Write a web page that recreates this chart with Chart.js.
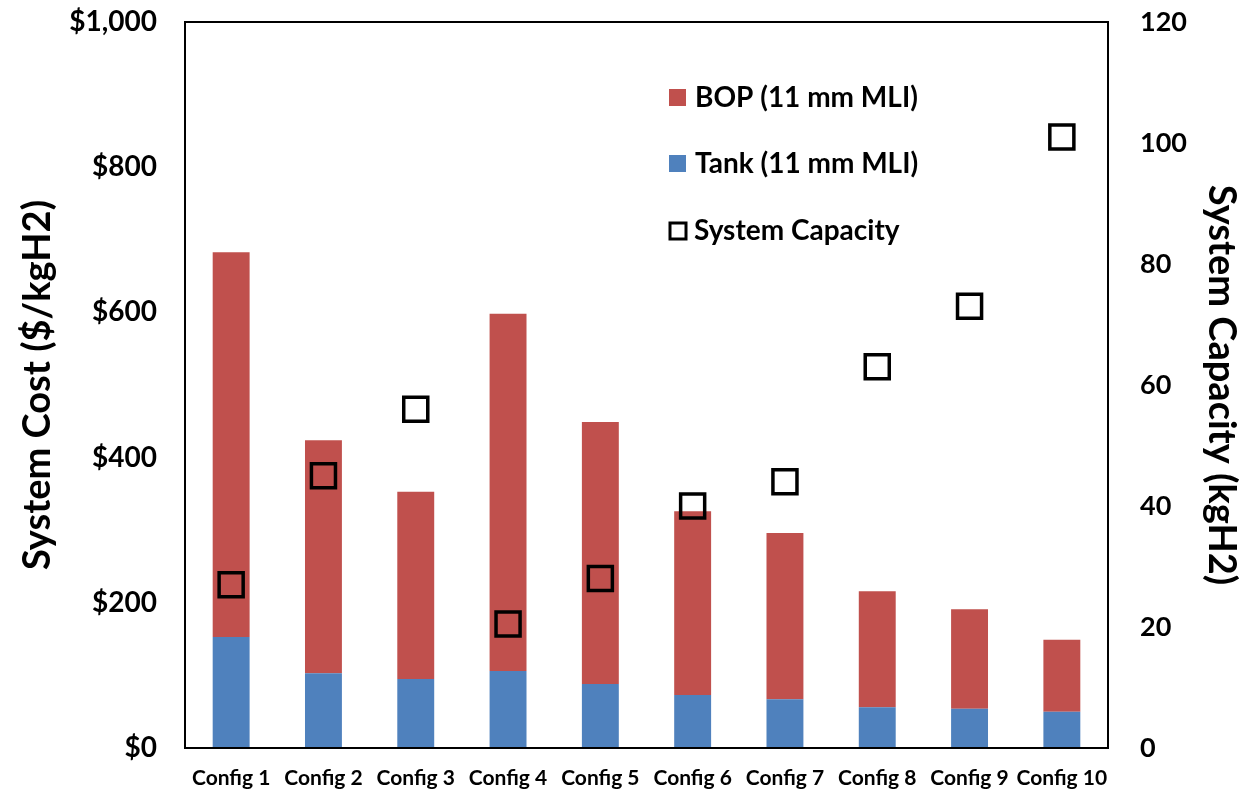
<!DOCTYPE html>
<html>
<head>
<meta charset="utf-8">
<script src="https://cdn.jsdelivr.net/npm/chart.js@4/dist/chart.umd.min.js"></script>
<style>
  html, body { margin: 0; padding: 0; background: #fff; }
  #wrap { width: 1246px; height: 791px; position: relative; }
</style>
</head>
<body>
<div id="wrap"><canvas id="chart"></canvas></div>
<script>
const categories = ['Config 1', 'Config 2', 'Config 3', 'Config 4', 'Config 5',
                    'Config 6', 'Config 7', 'Config 8', 'Config 9', 'Config 10'];
const tankCost = [153, 103, 95, 106, 88, 73, 67, 56, 54, 50];
const bopCost = [530, 321, 258, 492, 361, 253, 229, 160, 137, 99];
const capacity = [27, 45, 56, 20.5, 28, 40, 44, 63, 73, 101];

const FONT = 'Lato, "Open Sans", sans-serif';

// box round the plot area
const frame = {
    id: 'frame',
    afterDatasetsDraw(chart) {
        const a = chart.chartArea;
        const ctx = chart.ctx;
        ctx.save();
        ctx.strokeStyle = '#000';
        ctx.lineWidth = 2;
        ctx.strokeRect(a.left, a.top, a.right - a.left, a.bottom - a.top);
        ctx.restore();
    }
};

// legend drawn inside the plot, upper right
const innerLegend = {
    id: 'innerLegend',
    afterDraw(chart) {
        const ctx = chart.ctx;
        const items = [chart.data.datasets[2], chart.data.datasets[1], chart.data.datasets[0]];
        const x = 669, ys = [98, 164, 231];
        ctx.save();
        ctx.font = 'bold 28px ' + FONT;
        ctx.textBaseline = 'middle';
        items.forEach((ds, i) => {
            const y = ys[i];
            if (ds.type === 'line') {
                ctx.strokeStyle = '#000';
                ctx.lineWidth = 3;
                ctx.strokeRect(x + 1, y - 8, 16, 16);
                ctx.fillStyle = '#000';
                ctx.fillText(ds.label, x + 25, y);
            } else {
                ctx.fillStyle = ds.backgroundColor;
                ctx.fillRect(x, y - 9, 17, 17);
                ctx.fillStyle = '#000';
                ctx.fillText(ds.label, x + 26, y);
            }
        });
        ctx.restore();
    }
};

// keep tick-label overflow from shrinking the plot area
function noPad(scale) {
    scale.paddingTop = 0;
    scale.paddingBottom = 0;
}

new Chart(document.getElementById('chart'), {
    type: 'bar',
    data: {
        labels: categories,
        datasets: [
            {
                type: 'line',
                label: 'System Capacity',
                data: capacity,
                yAxisID: 'y1',
                showLine: false,
                pointStyle: 'rect',
                pointRadius: 17,
                pointBorderWidth: 3.5,
                pointBorderColor: '#000',
                pointBackgroundColor: 'rgba(0,0,0,0)',
                order: 0
            },
            {
                label: 'Tank (11 mm MLI)',
                data: tankCost,
                backgroundColor: '#4F81BD',
                stack: 'cost',
                yAxisID: 'y',
                barPercentage: 0.4,
                categoryPercentage: 1,
                order: 1
            },
            {
                label: 'BOP (11 mm MLI)',
                data: bopCost,
                backgroundColor: '#C0504D',
                stack: 'cost',
                yAxisID: 'y',
                barPercentage: 0.4,
                categoryPercentage: 1,
                order: 1
            }
        ]
    },
    options: {
        responsive: true,
        maintainAspectRatio: false,
        animation: false,
        layout: { padding: { top: 22, left: 0, right: 0, bottom: 0 } },
        plugins: {
            legend: { display: false },
            tooltip: { enabled: false }
        },
        scales: {
            x: {
                stacked: true,
                grid: { display: false, drawTicks: false },
                border: { color: '#000', width: 2 },
                ticks: {
                    color: '#000',
                    padding: 18,
                    maxRotation: 0,
                    autoSkip: false,
                    font: { family: FONT, size: 21, weight: 'bold' }
                },
                afterFit(scale) { scale.height = 43; }
            },
            y: {
                stacked: true,
                position: 'left',
                min: 0,
                max: 1000,
                grid: { display: false, drawTicks: false },
                border: { color: '#000', width: 2 },
                ticks: {
                    stepSize: 200,
                    color: '#000',
                    padding: 28,
                    font: { family: FONT, size: 28, weight: 'bold' },
                    callback: v => '$' + v.toLocaleString('en-US')
                },
                title: {
                    display: true,
                    text: 'System Cost ($/kgH2)',
                    color: '#000',
                    padding: { top: 15, bottom: 0 },
                    font: { family: FONT, size: 38, weight: 'bold' }
                },
                afterFit(scale) { scale.width = 185; noPad(scale); }
            },
            y1: {
                position: 'right',
                min: 0,
                max: 120,
                grid: { display: false, drawTicks: false },
                border: { color: '#000', width: 2 },
                ticks: {
                    stepSize: 20,
                    color: '#000',
                    padding: 32,
                    font: { family: FONT, size: 27, weight: 'bold' }
                },
                title: {
                    display: true,
                    text: 'System Capacity (kgH2)',
                    color: '#000',
                    padding: { top: 2, bottom: 0 },
                    font: { family: FONT, size: 38, weight: 'bold' }
                },
                afterFit(scale) { scale.width = 138; noPad(scale); }
            }
        }
    },
    plugins: [frame, innerLegend]
});
</script>
</body>
</html>
